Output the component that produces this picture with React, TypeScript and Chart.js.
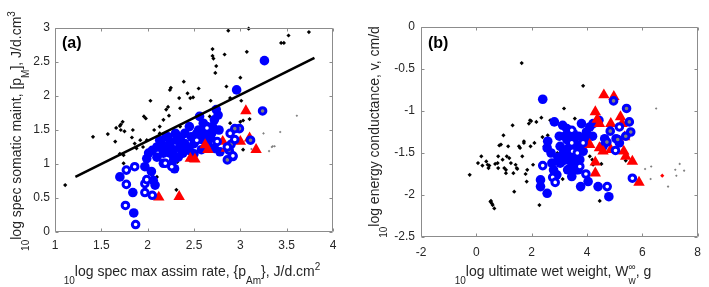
import React, { useEffect, useRef } from 'react';
import { Chart, registerables } from 'chart.js';

Chart.register(...registerables);

const FONT = '"Liberation Sans", Arial, Helvetica, sans-serif';
const TEXT = '#262626';

// ---------- Panel (a): log {pAm} vs log [pM] ----------
const aXTicks = [1, 1.5, 2, 2.5, 3, 3.5, 4];
const aYTicks = [0, 0.5, 1, 1.5, 2, 2.5, 3];

const aBlack: number[][] = [
  [1.11, 0.69], [1.41, 1.40], [1.57, 1.44], [1.65, 1.33], [1.66, 1.53], [1.70, 1.56], [1.73, 1.62],
  [1.71, 1.58], [1.71, 1.50], [1.75, 1.48], [1.84, 1.50], [1.83, 1.39], [1.70, 1.15], [1.74, 1.13],
  [1.74, 1.01], [1.86, 1.30], [1.88, 1.23], [1.92, 1.35], [1.96, 1.70], [1.98, 1.67], [2.03, 1.93],
  [2.07, 1.50], [2.13, 1.45], [2.17, 1.65], [2.20, 1.80], [2.22, 1.84], [2.24, 2.09], [2.25, 2.12],
  [2.23, 1.71], [2.22, 1.25], [1.95, 1.25], [1.99, 1.35], [1.99, 0.93], [2.06, 0.81], [2.10, 0.81],
  [2.13, 1.55], [2.34, 1.97], [2.39, 2.21], [2.43, 2.04], [2.46, 1.97], [2.49, 1.98], [2.55, 2.11],
  [2.35, 1.82], [2.35, 1.55], [2.31, 1.11], [2.32, 1.03], [2.31, 0.62], [2.45, 1.06], [2.52, 1.50],
  [2.56, 1.52], [2.58, 1.40], [2.70, 2.69], [2.70, 2.59], [2.71, 2.55], [2.74, 2.44], [2.73, 2.34],
  [2.68, 1.93], [2.83, 2.61], [2.87, 2.96], [2.85, 2.14], [2.89, 1.97], [3.01, 1.93], [3.00, 2.27],
  [3.07, 2.65], [3.09, 2.99], [3.03, 1.64], [3.10, 1.66], [3.00, 1.62], [3.44, 2.78], [3.47, 2.78],
  [3.52, 2.89], [3.74, 2.94], [2.89, 1.60], [2.67, 1.70], [3.03, 1.21]
];
const aGray: number[][] = [
  [3.25, 1.45], [3.31, 1.19], [3.34, 1.25], [3.35, 1.26], [3.37, 1.26], [3.43, 1.47], [3.61, 1.71],
  [3.12, 1.22]
];
const aBlue: number[][] = [
  [1.70, 0.81], [1.84, 0.58], [1.85, 0.28], [1.97, 0.96], [1.99, 1.08], [2.01, 1.16], [2.04, 0.89],
  [2.06, 0.76], [2.08, 0.69], [2.10, 1.25], [2.13, 1.35], [2.17, 1.16], [2.17, 1.01], [2.20, 1.40],
  [2.24, 1.30], [2.28, 1.21], [2.29, 0.93], [2.31, 1.35], [2.35, 1.25], [2.38, 1.16], [2.42, 1.25],
  [2.45, 1.55], [2.47, 1.40], [2.53, 1.45], [2.56, 1.70], [2.60, 1.35], [2.58, 1.21], [2.64, 1.55],
  [2.69, 1.45], [2.72, 1.65], [2.74, 1.80], [2.76, 1.72], [2.77, 1.50], [2.78, 1.18], [2.72, 1.23],
  [2.65, 1.30], [2.28, 1.06], [2.13, 1.25], [2.19, 1.25], [2.24, 1.16], [2.37, 1.18], [3.26, 2.52],
  [2.96, 2.09], [2.30, 1.45], [2.35, 1.38], [2.40, 1.30], [2.45, 1.20], [2.50, 1.30], [2.55, 1.38],
  [2.40, 1.45], [2.27, 1.15], [2.33, 1.10], [2.50, 1.15], [2.55, 1.50], [2.62, 1.45], [2.68, 1.38],
  [2.15, 1.30], [2.22, 1.40], [2.05, 1.20], [2.10, 1.10], [2.70, 1.55], [2.60, 1.60]
];
const aRing: number[][] = [
  [1.77, 0.91], [1.77, 0.70], [1.76, 0.39], [1.86, 0.96], [1.87, 0.11], [1.97, 0.71], [1.99, 0.77],
  [1.97, 0.58], [2.05, 0.54], [2.19, 1.01], [2.26, 0.96], [2.53, 1.35], [2.64, 1.53], [2.75, 1.33],
  [2.89, 1.45], [2.94, 1.36], [2.86, 1.25], [2.92, 1.12]
];
const aRingGray: number[][] = [
  [3.24, 1.78], [2.99, 1.52], [2.90, 1.29], [2.88, 1.20], [2.86, 1.06], [2.92, 1.11], [3.11, 1.35],
  [2.94, 1.52]
];
const aTri: number[][] = [
  [3.06, 1.78], [3.10, 1.38], [3.17, 1.21], [3.00, 1.33], [2.12, 0.51], [2.34, 0.52], [2.46, 1.08],
  [2.51, 1.07], [2.62, 1.28], [2.65, 1.21], [2.81, 1.33], [2.85, 1.23]
];
const aFit: number[][] = [[1.22, 0.81], [3.80, 2.56]];

// ---------- Panel (b): log Ww vs log v ----------
const bXTicks = [-2, 0, 2, 4, 6, 8];
const bYTicks = [-2.5, -2, -1.5, -1, -0.5, 0];

const bBlack: number[][] = [
  [-0.24, -1.76], [0.06, -1.62], [0.22, -1.65], [0.41, -1.64], [0.44, -1.68], [0.47, -1.65],
  [0.51, -2.08], [0.53, -2.07], [0.56, -2.10], [0.59, -2.12], [0.65, -2.16], [0.68, -1.63],
  [0.77, -1.62], [0.79, -1.54], [0.83, -1.41], [0.89, -1.40], [0.95, -1.58], [0.98, -1.29],
  [1.01, -1.68], [1.07, -1.74], [1.10, -1.54], [1.15, -1.42], [1.25, -1.62], [1.31, -1.17],
  [1.34, -1.74], [1.37, -1.96], [1.42, -1.64], [1.46, -1.68], [1.48, -1.69], [1.54, -1.42],
  [1.58, -1.44], [1.64, -0.43], [1.66, -1.54], [1.72, -1.38], [1.72, -1.36], [1.78, -1.75],
  [1.82, -1.84], [1.84, -1.70], [1.90, -1.15], [1.94, -1.11], [1.96, -1.42], [1.98, -1.12],
  [2.05, -1.64], [2.10, -1.38], [2.17, -1.13], [2.28, -2.12], [2.35, -1.08], [2.39, -1.31],
  [2.46, -1.42], [2.58, -1.29], [2.67, -1.11], [2.79, -1.50], [2.93, -1.50], [3.12, -1.81],
  [3.17, -0.97], [3.56, -1.09], [3.86, -0.70], [4.10, -1.54], [4.19, -1.58], [4.52, -1.63],
  [4.46, -2.07], [4.22, -1.64], [0.18, -1.54], [0.36, -1.60], [1.07, -1.70], [1.19, -1.56],
  [0.79, -1.68], [5.43, -1.52], [5.40, -1.59]
];
const bGray: number[][] = [
  [6.50, -0.97], [6.10, -1.69], [6.30, -1.81], [6.32, -1.66], [6.93, -1.90], [7.19, -1.70],
  [7.23, -1.77], [7.35, -1.63], [7.51, -1.71]
];
const bRed: number[][] = [[6.72, -1.77]];
const bBlue: number[][] = [
  [2.40, -0.86], [2.58, -1.36], [2.56, -1.44], [2.70, -1.50], [2.82, -1.13], [3.12, -1.17],
  [3.27, -1.21], [3.51, -1.27], [3.80, -1.15], [3.98, -1.25], [4.10, -1.19], [4.22, -1.15],
  [4.43, -1.11], [3.03, -1.42], [3.15, -1.50], [3.27, -1.58], [3.39, -1.68], [3.45, -1.78],
  [3.51, -1.46], [3.56, -1.54], [3.62, -1.62], [3.74, -1.58], [3.86, -1.48], [3.51, -1.34],
  [3.27, -1.34], [2.32, -1.82], [2.32, -1.90], [2.56, -1.98], [2.73, -1.62], [2.79, -1.70],
  [2.91, -1.76], [4.04, -1.84], [3.77, -1.90], [4.40, -1.90], [4.79, -2.02], [4.58, -1.42],
  [4.64, -1.33], [5.05, -1.33], [5.17, -1.38], [3.03, -1.62], [3.39, -1.42], [3.68, -1.70],
  [3.20, -1.30], [3.30, -1.45], [3.40, -1.55], [3.60, -1.40], [3.70, -1.30], [3.10, -1.60],
  [3.30, -1.70], [3.50, -1.62], [3.90, -1.35], [4.00, -1.30], [3.70, -1.45], [3.20, -1.52],
  [2.95, -1.55], [3.60, -1.70], [3.35, -1.30], [4.20, -1.30], [3.00, -1.30]
];
const bRing: number[][] = [
  [3.45, -1.23], [3.45, -1.38], [3.48, -1.48], [3.65, -1.50], [3.86, -1.38], [3.74, -1.66],
  [3.96, -1.75], [2.40, -1.65], [2.76, -1.79], [2.85, -1.85], [4.73, -1.90], [5.03, -1.47],
  [5.17, -1.19], [5.64, -1.80]
];
const bRingGray: number[][] = [
  [4.96, -0.88], [4.84, -1.24], [4.72, -1.37], [5.11, -1.34], [5.43, -0.97], [5.53, -1.13],
  [5.58, -1.25], [5.40, -1.30]
];
const bTri: number[][] = [
  [4.61, -0.81], [4.97, -0.83], [4.30, -1.01], [4.37, -1.10], [4.45, -1.15], [4.10, -1.40],
  [4.30, -1.61], [4.30, -1.74], [4.45, -1.44], [4.86, -1.15], [5.21, -1.07], [5.27, -1.15],
  [5.36, -1.31], [5.33, -1.48], [5.40, -1.54], [5.64, -1.60], [5.88, -1.85], [4.86, -1.46],
  [4.58, -1.48]
];

type Seg = { t: string; k?: 'sub' | 'sup' | 'subsup'; t2?: string };

const aXTitle: Seg[] = [{ t: '10', k: 'sub' }, { t: 'log spec max assim rate, {p' }, { t: 'Am', k: 'sub' }, { t: '}, J/d.cm' }, { t: '2', k: 'sup' }];
const aYTitle: Seg[] = [{ t: '10', k: 'sub' }, { t: 'log spec somatic maint, [p' }, { t: 'M', k: 'sub' }, { t: '], J/d.cm' }, { t: '3', k: 'sup' }];
const bXTitle: Seg[] = [{ t: '10', k: 'sub' }, { t: 'log ultimate wet weight, W' }, { t: 'w', k: 'subsup', t2: '\u221E' }, { t: ', g' }];
const bYTitle: Seg[] = [{ t: '10', k: 'sub' }, { t: 'log energy conductance, v, cm/d' }];

const MAIN = 14;
const SMALL = 10;
const SUBDY = 8;
const SUPDY = -6;

function segWidth(ctx: CanvasRenderingContext2D, s: Seg): number {
  if (!s.k) {
    ctx.font = `${MAIN}px ${FONT}`;
    return ctx.measureText(s.t).width;
  }
  ctx.font = `${SMALL}px ${FONT}`;
  if (s.k === 'subsup') return Math.max(ctx.measureText(s.t).width, ctx.measureText(s.t2 || '').width);
  return ctx.measureText(s.t).width;
}

function drawRich(ctx: CanvasRenderingContext2D, segs: Seg[], x: number, y: number, rot: number) {
  ctx.save();
  ctx.translate(x, y);
  if (rot) ctx.rotate(rot);
  const widths = segs.map((s) => segWidth(ctx, s));
  const total = widths.reduce((a, b) => a + b, 0);
  let cx = -total / 2;
  ctx.fillStyle = TEXT;
  ctx.textAlign = 'left';
  ctx.textBaseline = 'alphabetic';
  segs.forEach((s, i) => {
    if (!s.k) {
      ctx.font = `${MAIN}px ${FONT}`;
      ctx.fillText(s.t, cx, 0);
    } else {
      ctx.font = `${SMALL}px ${FONT}`;
      if (s.k === 'sub') ctx.fillText(s.t, cx, SUBDY);
      else if (s.k === 'sup') ctx.fillText(s.t, cx, SUPDY);
      else {
        ctx.fillText(s.t, cx, SUBDY);
        ctx.fillText(s.t2 || '', cx, SUPDY);
      }
    }
    cx += widths[i];
  });
  ctx.restore();
}

const framePlugin = {
  id: 'frame',
  afterDatasetsDraw(chart: any) {
    const ctx: CanvasRenderingContext2D = chart.ctx;
    const { left, right, top, bottom } = chart.chartArea;
    const xs = chart.scales.x;
    const ys = chart.scales.y;
    ctx.save();
    ctx.strokeStyle = '#8c8c8c';
    ctx.lineWidth = 1;
    const L = Math.round(left) + 0.5;
    const R = Math.round(right) - 0.5;
    const T = Math.round(top) + 0.5;
    const B = Math.round(bottom) - 0.5;
    ctx.beginPath();
    ctx.rect(L, T, R - L, B - T);
    const tl = 3;
    xs.ticks.forEach((t: any) => {
      const p = Math.round(xs.getPixelForValue(t.value)) + 0.5;
      ctx.moveTo(p, B);
      ctx.lineTo(p, B - tl);
      ctx.moveTo(p, T);
      ctx.lineTo(p, T + tl);
    });
    ys.ticks.forEach((t: any) => {
      const p = Math.round(ys.getPixelForValue(t.value)) + 0.5;
      ctx.moveTo(L, p);
      ctx.lineTo(L + tl, p);
      ctx.moveTo(R, p);
      ctx.lineTo(R - tl, p);
    });
    ctx.stroke();
    ctx.restore();
  },
  afterDraw(chart: any, _args: any, opts: any) {
    const ctx: CanvasRenderingContext2D = chart.ctx;
    drawRich(ctx, opts.xTitle, opts.xTitleX, opts.xTitleY, 0);
    drawRich(ctx, opts.yTitle, opts.yTitleX, opts.yTitleY, -Math.PI / 2);
    ctx.save();
    ctx.font = `bold 16px ${FONT}`;
    ctx.fillStyle = '#000';
    ctx.textAlign = 'left';
    ctx.textBaseline = 'alphabetic';
    ctx.fillText(opts.label, opts.labelX, opts.labelY);
    ctx.restore();
  },
};

const pts = (arr: number[][]) => arr.map(([x, y]) => ({ x, y }));

function datasets(black: number[][], gray: number[][], red: number[][], blue: number[][], ring: number[][], ringGray: number[][], tri: number[][], fit: number[][] | null) {
  const ds: any[] = [
    { data: pts(gray), pointStyle: 'rectRot', pointRadius: 1.3, backgroundColor: '#808080', borderWidth: 0, order: 7 },
    { data: pts(black), pointStyle: 'rectRot', pointRadius: 2.1, backgroundColor: '#000000', borderWidth: 0, order: 6 },
    { data: pts(red), pointStyle: 'rectRot', pointRadius: 2.1, backgroundColor: '#ff0000', borderWidth: 0, order: 6 },
    { data: pts(blue), pointStyle: 'circle', pointRadius: 4.8, backgroundColor: '#0000ff', borderWidth: 0, order: 5 },
    { data: pts(tri), pointStyle: 'triangle', pointRadius: 6.6, backgroundColor: '#ff0000', borderWidth: 0, order: 4 },
    { data: pts(ring), pointStyle: 'circle', pointRadius: 3.3, backgroundColor: '#ffffff', borderColor: '#0000ff', borderWidth: 3, order: 3 },
    { data: pts(ringGray), pointStyle: 'circle', pointRadius: 3.3, backgroundColor: '#808080', borderColor: '#0000ff', borderWidth: 3, order: 3 },
  ];
  if (fit) {
    ds.push({ data: pts(fit), showLine: true, pointRadius: 0, borderColor: '#000000', borderWidth: 2.6, order: 0 });
  }
  ds.forEach((d) => { d.clip = false; d.pointHoverRadius = d.pointRadius; });
  return ds;
}

function fmt(v: number) {
  return String(Math.round(v * 100) / 100);
}

function makeConfig(p: any): any {
  return {
    type: 'scatter',
    data: { datasets: p.datasets },
    options: {
      animation: false,
      responsive: false,
      events: [],
      layout: { padding: p.padding },
      plugins: {
        legend: { display: false },
        tooltip: { enabled: false },
        frame: p.frame,
      },
      scales: {
        x: {
          type: 'linear',
          min: p.xMin,
          max: p.xMax,
          afterBuildTicks: (s: any) => { s.ticks = p.xTicks.map((v: number) => ({ value: v })); },
          afterFit: (s: any) => { s.height = p.xHeight; },
          ticks: { autoSkip: false, maxRotation: 0, padding: p.xPad, color: TEXT, font: { family: FONT, size: 12 }, callback: (v: number) => fmt(v) },
          grid: { display: false, drawTicks: false },
          border: { display: false },
        },
        y: {
          type: 'linear',
          min: p.yMin,
          max: p.yMax,
          afterBuildTicks: (s: any) => { s.ticks = p.yTicks.map((v: number) => ({ value: v })); },
          afterFit: (s: any) => { s.width = p.yWidth; },
          ticks: { autoSkip: false, padding: p.yPad, color: TEXT, font: { family: FONT, size: 12 }, callback: (v: number) => fmt(v) },
          grid: { display: false, drawTicks: false },
          border: { display: false },
        },
      },
    },
    plugins: [framePlugin],
  };
}

export default function App() {
  const refA = useRef<HTMLCanvasElement>(null);
  const refB = useRef<HTMLCanvasElement>(null);

  useEffect(() => {
    const chartA = new Chart(refA.current as HTMLCanvasElement, makeConfig({
      datasets: datasets(aBlack, aGray, [], aBlue, aRing, aRingGray, aTri, aFit),
      padding: { left: 0, right: 22, top: 28, bottom: 0 },
      xMin: 1, xMax: 4, yMin: 0, yMax: 3,
      xTicks: aXTicks, yTicks: aYTicks,
      xHeight: 55, yWidth: 55, xPad: 6, yPad: 5,
      frame: {
        xTitle: aXTitle, xTitleX: 192, xTitleY: 276,
        yTitle: aYTitle, yTitleX: 21, yTitleY: 131,
        label: '(a)', labelX: 62, labelY: 48,
      },
    }));
    const chartB = new Chart(refB.current as HTMLCanvasElement, makeConfig({
      datasets: datasets(bBlack, bGray, bRed, bBlue, bRing, bRingGray, bTri, null),
      padding: { left: 0, right: 8, top: 27, bottom: 0 },
      xMin: -2, xMax: 8, yMin: -2.5, yMax: 0,
      xTicks: bXTicks, yTicks: bYTicks,
      xHeight: 50, yWidth: 66, xPad: 8, yPad: 6,
      frame: {
        xTitle: bXTitle, xTitleX: 198, xTitleY: 276,
        yTitle: bYTitle, yTitleX: 24, yTitleY: 132,
        label: '(b)', labelX: 73, labelY: 48,
      },
    }));
    return () => {
      chartA.destroy();
      chartB.destroy();
    };
  }, []);

  return (
    <div style={{ position: 'absolute', left: 0, top: 0, width: 709, height: 287, background: '#fff' }}>
      <canvas ref={refA} width={355} height={287} style={{ position: 'absolute', left: 0, top: 0 }} />
      <canvas ref={refB} width={354} height={287} style={{ position: 'absolute', left: 355, top: 0 }} />
    </div>
  );
}
